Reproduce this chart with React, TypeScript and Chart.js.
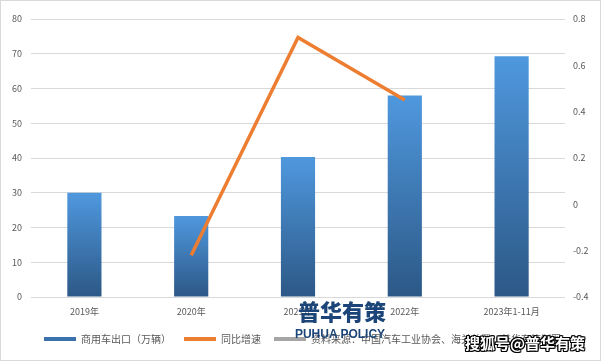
import React, { useEffect, useRef } from "react";
import { Chart, registerables } from "chart.js";

Chart.register(...registerables);

const categories = ["2019年", "2020年", "2021年", "2022年", "2023年1-11月"];
const exportVolume = [30.0, 23.3, 40.3, 58.0, 69.3];
const yoyGrowth = [null, -0.22, 0.72, 0.45, null];
const legendLabels = ["商用车出口（万辆）", "同比增速", "资料来源：中国汽车工业协会、海关总署、普华有策制图"];

const FONT = '"Noto Sans CJK SC", "Noto Sans", sans-serif';
const TEXT = "#595959";

export default function App() {
  const ref = useRef<HTMLCanvasElement>(null);

  useEffect(() => {
    const canvas = ref.current;
    if (!canvas) return;
    const chart = new Chart(canvas, {
      type: "bar",
      data: {
        labels: categories,
        datasets: [
          {
            type: "line",
            label: legendLabels[1],
            data: yoyGrowth as any,
            yAxisID: "y1",
            borderColor: "#ED7D31",
            backgroundColor: "#ED7D31",
            borderWidth: 3.5,
            pointRadius: 0,
            tension: 0,
            spanGaps: false,
            order: 0,
          },
          {
            type: "bar",
            label: legendLabels[0],
            data: exportVolume,
            yAxisID: "y",
            order: 1,
            categoryPercentage: 1,
            barPercentage: 0.32,
            backgroundColor: (ctx: any) => {
              const chart = ctx.chart;
              const ys = chart.scales && chart.scales.y;
              if (ctx.type !== "data" || !ys) return "#3E78B8";
              const top = ys.getPixelForValue(ctx.raw);
              const bottom = ys.getPixelForValue(0);
              if (!isFinite(top) || !isFinite(bottom) || top === bottom) return "#3E78B8";
              const g = chart.ctx.createLinearGradient(0, top, 0, bottom);
              g.addColorStop(0, "#4F98DE");
              g.addColorStop(1, "#2C5886");
              return g;
            },
          },
        ],
      },
      options: {
        responsive: false,
        animation: false,
        layout: { padding: { top: 19, left: 4, right: 0, bottom: 7 } },
        plugins: {
          tooltip: { enabled: false },
          legend: {
            position: "bottom",
            labels: {
              boxWidth: 32,
              boxHeight: 4,
              padding: 13,
              color: TEXT,
              font: { family: FONT, size: 10 },
              generateLabels: () => [
                { text: legendLabels[0], fillStyle: "#3A72AE", strokeStyle: "#3A72AE", lineWidth: 0, fontColor: TEXT, datasetIndex: 1 },
                { text: legendLabels[1], fillStyle: "#ED7D31", strokeStyle: "#ED7D31", lineWidth: 0, fontColor: TEXT, datasetIndex: 0 },
                { text: legendLabels[2], fillStyle: "#A5A5A5", strokeStyle: "#A5A5A5", lineWidth: 0, fontColor: TEXT, datasetIndex: 2 },
              ] as any,
            },
          },
        },
        scales: {
          x: {
            grid: { display: false },
            border: { display: false },
            ticks: { color: TEXT, font: { family: FONT, size: 9 }, padding: 1, maxRotation: 0, autoSkip: false },
            afterFit: (s: any) => { s.height = 24; },
          },
          y: {
            position: "left",
            min: 0,
            max: 80,
            grid: { color: "#D9D9D9", drawTicks: false, lineWidth: 1 },
            border: { display: false },
            ticks: { stepSize: 10, color: TEXT, font: { family: FONT, size: 9 }, padding: 9 },
            afterFit: (s: any) => { s.width = 27; },
          },
          y1: {
            position: "right",
            min: -0.4,
            max: 0.8,
            grid: { display: false, drawTicks: false },
            border: { display: false },
            ticks: {
              stepSize: 0.2,
              color: TEXT,
              font: { family: FONT, size: 9 },
              padding: 8,
              callback: (v: any) => String(Number(Number(v).toFixed(1))),
            },
            afterFit: (s: any) => { s.width = 36; },
          },
        },
      } as any,
    });
    return () => chart.destroy();
  }, []);

  return (
    <div style={{ position: "absolute", left: 0, top: 0, width: 601, height: 361, background: "#fff", overflow: "hidden" }}>
      <canvas ref={ref} width={601} height={361} style={{ display: "block", width: 601, height: 361 }} />
      <div style={{ position: "absolute", left: 0, top: 0, width: 601, height: 361, boxSizing: "border-box", border: "1px solid #D9D9D9", pointerEvents: "none" }} />
      <div style={{ position: "absolute", left: 292, top: 293, width: 100, textAlign: "center", fontFamily: FONT, fontWeight: 900, fontSize: 22, lineHeight: "34px", color: "#1B4478", pointerEvents: "none" }}>普华有策</div>
      <div style={{ position: "absolute", left: 290, top: 326, width: 100, textAlign: "center", fontFamily: '"Liberation Sans", Arial, sans-serif', fontWeight: 700, fontSize: 12, lineHeight: "16px", color: "#1B4478", pointerEvents: "none" }}>PUHUA POLICY</div>
      <div style={{ position: "absolute", left: 460, top: 332, width: 130, textAlign: "center", fontFamily: FONT, fontWeight: 700, fontSize: 15, lineHeight: "22px", color: "#fff", textShadow: "1px 0 0 #000, -1px 0 0 #000, 0 1px 0 #000, 0 -1px 0 #000, 1px 1px 0 #000, -1px -1px 0 #000, 1px -1px 0 #000, -1px 1px 0 #000", pointerEvents: "none" }}>搜狐号@普华有策</div>
    </div>
  );
}
